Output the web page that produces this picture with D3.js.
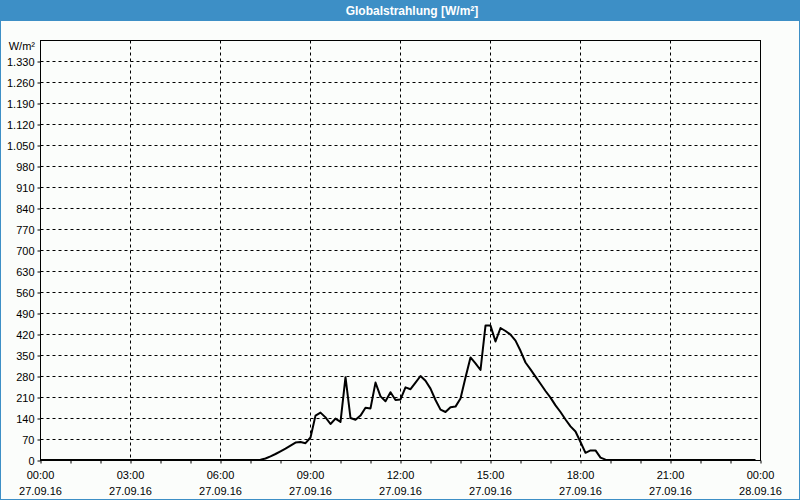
<!DOCTYPE html>
<html>
<head>
<meta charset="utf-8">
<script src="https://cdn.jsdelivr.net/npm/d3@7"></script>
<style>
  html, body { margin: 0; padding: 0; background: #ffffff; }
  svg { display: block; }
  text { font-family: "Liberation Sans", Arial, sans-serif; font-size: 11px; fill: #000; }
</style>
</head>
<body>
<script>
// ---- Data (10-minute readings, 27.09.16) ----
const times = [
  "00:00","07:00","07:10","07:20","07:30","07:40","07:50",
  "08:00","08:10","08:20","08:30","08:40","08:50",
  "09:00","09:10","09:20","09:30","09:40","09:50",
  "10:00","10:10","10:20","10:30","10:40","10:50",
  "11:00","11:10","11:20","11:30","11:40","11:50",
  "12:00","12:10","12:20","12:30","12:40","12:50",
  "13:00","13:10","13:20","13:30","13:40","13:50",
  "14:00","14:10","14:20","14:30","14:40","14:50",
  "15:00","15:10","15:20","15:30","15:40","15:50",
  "16:00","16:10","16:20","16:30","16:40","16:50",
  "17:00","17:10","17:20","17:30","17:40","17:50",
  "18:00","18:10","18:20","18:30","18:40","18:50",
  "19:00","23:50"
];
const values = [
  0,0,0,1,5,12,20,
  29,38,48,58,60,56,
  75,148,158,142,120,138,
  127,276,140,134,148,174,
  172,258,212,196,226,200,
  202,242,236,258,280,264,
  238,200,168,160,176,178,
  205,275,342,322,300,448,
  448,395,440,430,418,398,
  364,325,302,278,254,230,
  208,182,160,135,112,95,
  60,24,32,32,8,1,
  0,0
];
const yTicks = [70,140,210,280,350,420,490,560,630,700,770,840,910,980,1050,1120,1190,1260,1330];
const xTickHours = [0,3,6,9,12,15,18,21,24];
const titleText = "Globalstrahlung [W/m²]";
const unitLabel = "W/m²";
const dayStart = "27.09.16";

// ---- Setup ----
const W = 800, H = 500;
const svg = d3.select("body").append("svg").attr("width", W).attr("height", H);

const parseDT = d3.timeParse("%d.%m.%y %H:%M");
const t0 = parseDT(dayStart + " 00:00");
const t1 = d3.timeDay.offset(t0, 1);
const data = times.map((t, i) => ({ date: parseDT(dayStart + " " + t), value: values[i] }));

const x = d3.scaleTime().domain([t0, t1]).range([40.5, 760.5]);
const y = d3.scaleLinear().domain([0, 1400]).range([460.5, 40.5]);

const de = d3.formatLocale({ decimal: ",", thousands: ".", grouping: [3], currency: ["", " €"] });
const fmtY = de.format(",d");

// background
svg.append("rect").attr("width", W).attr("height", H).attr("fill", "#fbfdfb");
// outer blue border
svg.append("rect").attr("x", 0.5).attr("y", 0.5).attr("width", W - 1).attr("height", H - 1)
  .attr("fill", "none").attr("stroke", "#3d8fc6").attr("stroke-width", 1);
// title bar
svg.append("rect").attr("x", 0).attr("y", 0).attr("width", W).attr("height", 21).attr("fill", "#3d8fc6");
svg.append("text").attr("x", 412).attr("y", 15).attr("text-anchor", "middle")
  .style("font-weight", "bold").style("font-size", "12px").style("fill", "#ffffff").text(titleText);

// grid lines
const grid = svg.append("g").attr("stroke", "#000").attr("stroke-width", 1).attr("stroke-dasharray", "3,3");
grid.selectAll("line.h").data(yTicks).join("line")
  .attr("x1", x.range()[0]).attr("x2", x.range()[1])
  .attr("y1", d => Math.round(y(d) - 0.5) + 0.5).attr("y2", d => Math.round(y(d) - 0.5) + 0.5);
const vHours = xTickHours.filter(h => h > 0 && h < 24);
grid.selectAll("line.v").data(vHours).join("line")
  .attr("x1", h => x(d3.timeHour.offset(t0, h))).attr("x2", h => x(d3.timeHour.offset(t0, h)))
  .attr("y1", y.range()[1]).attr("y2", y.range()[0]);

// frame
svg.append("rect").attr("x", x.range()[0]).attr("y", y.range()[1])
  .attr("width", x.range()[1] - x.range()[0]).attr("height", y.range()[0] - y.range()[1])
  .attr("fill", "none").attr("stroke", "#000").attr("stroke-width", 1);

// y axis
const yAxis = d3.axisLeft(y).tickValues([0].concat(yTicks)).tickSize(3).tickPadding(3).tickFormat(fmtY);
const gy = svg.append("g").attr("transform", `translate(${x.range()[0]},0)`).call(yAxis);
gy.select(".domain").remove();
gy.selectAll("text").style("font-family", "Liberation Sans, Arial, sans-serif").style("font-size", "11px");
svg.append("text").attr("x", 35).attr("y", 50).attr("text-anchor", "end").text(unitLabel);

// x axis: hourly minor ticks
const hourTicks = d3.range(0, 25).map(h => d3.timeHour.offset(t0, h));
const xAxis = d3.axisBottom(x).tickValues(hourTicks).tickSize(3).tickFormat("");
const gx = svg.append("g").attr("transform", `translate(0,${y.range()[0]})`).call(xAxis);
gx.select(".domain").remove();

// x labels (two lines)
const fmtTime = d3.timeFormat("%H:%M"), fmtDate = d3.timeFormat("%d.%m.%y");
const xl = svg.append("g").selectAll("text").data(xTickHours.map(h => d3.timeHour.offset(t0, h))).join("text")
  .attr("text-anchor", "middle").attr("x", d => x(d));
xl.append("tspan").attr("x", d => x(d)).attr("y", 479).text(d => fmtTime(d));
xl.append("tspan").attr("x", d => x(d)).attr("y", 495).text(d => fmtDate(d));

// data line
const line = d3.line().x(d => x(d.date)).y(d => y(d.value) - 0.5);
svg.append("path").datum(data).attr("d", line)
  .attr("fill", "none").attr("stroke", "#000").attr("stroke-width", 2).attr("stroke-linejoin", "round");
</script>
</body>
</html>
